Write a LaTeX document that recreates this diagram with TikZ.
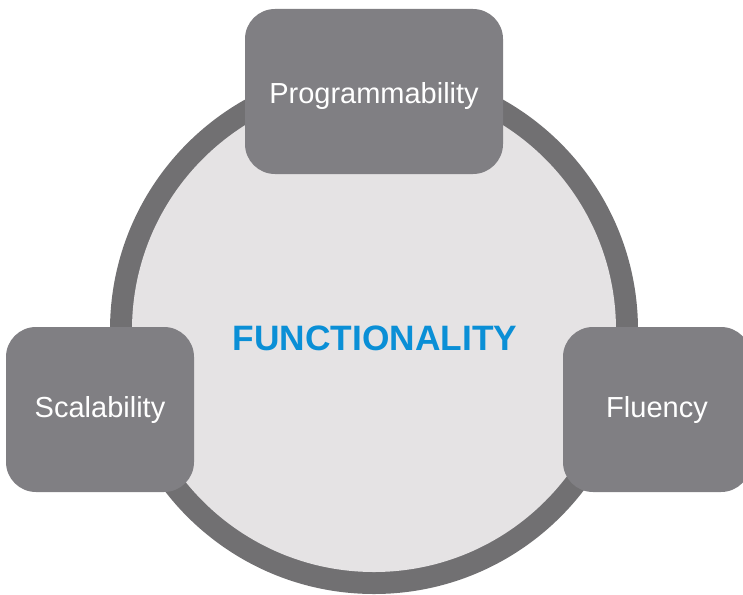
\documentclass[tikz,border=0pt]{standalone}
\usepackage{fontspec}
\setmainfont{Liberation Sans}
\definecolor{ringgrey}{HTML}{717072}
\definecolor{boxgrey}{HTML}{807F83}
\definecolor{innerfill}{HTML}{E5E3E4}
\definecolor{funcblue}{HTML}{0A8FD6}
\tikzset{
  pillar/.style={draw=none, fill=boxgrey, rounded corners=30pt, minimum height=165pt, text=white, font=\fontsize{29}{32}\selectfont, inner sep=0pt, text height=20.8pt, text depth=0pt},
}
\begin{document}
\begin{tikzpicture}[x=1pt,y=-1pt]
\useasboundingbox (0,0) rectangle (743,594);
\node[circle, fill=ringgrey, minimum size=528pt, inner sep=0pt] (outer) at (374,330) {};
\node[circle, fill=innerfill, minimum size=484pt, inner sep=0pt] (inner) at (374,330) {};
\node[font=\bfseries\fontsize{35.3}{40}\selectfont, text=funcblue, text height=25.3pt, text depth=0pt, inner sep=0pt] (func) at (375,338) {FUNCTIONALITY};
\node[pillar, minimum width=258pt, text height=23.8pt] (prog) at (374,91.5) {Programmability};
\node[pillar, minimum width=188pt, text depth=4pt] (scal) at (100,409.5) {Scalability};
\node[pillar, minimum width=188pt, text depth=4pt] (flu) at (657,409.5) {Fluency};
\end{tikzpicture}
\end{document}
